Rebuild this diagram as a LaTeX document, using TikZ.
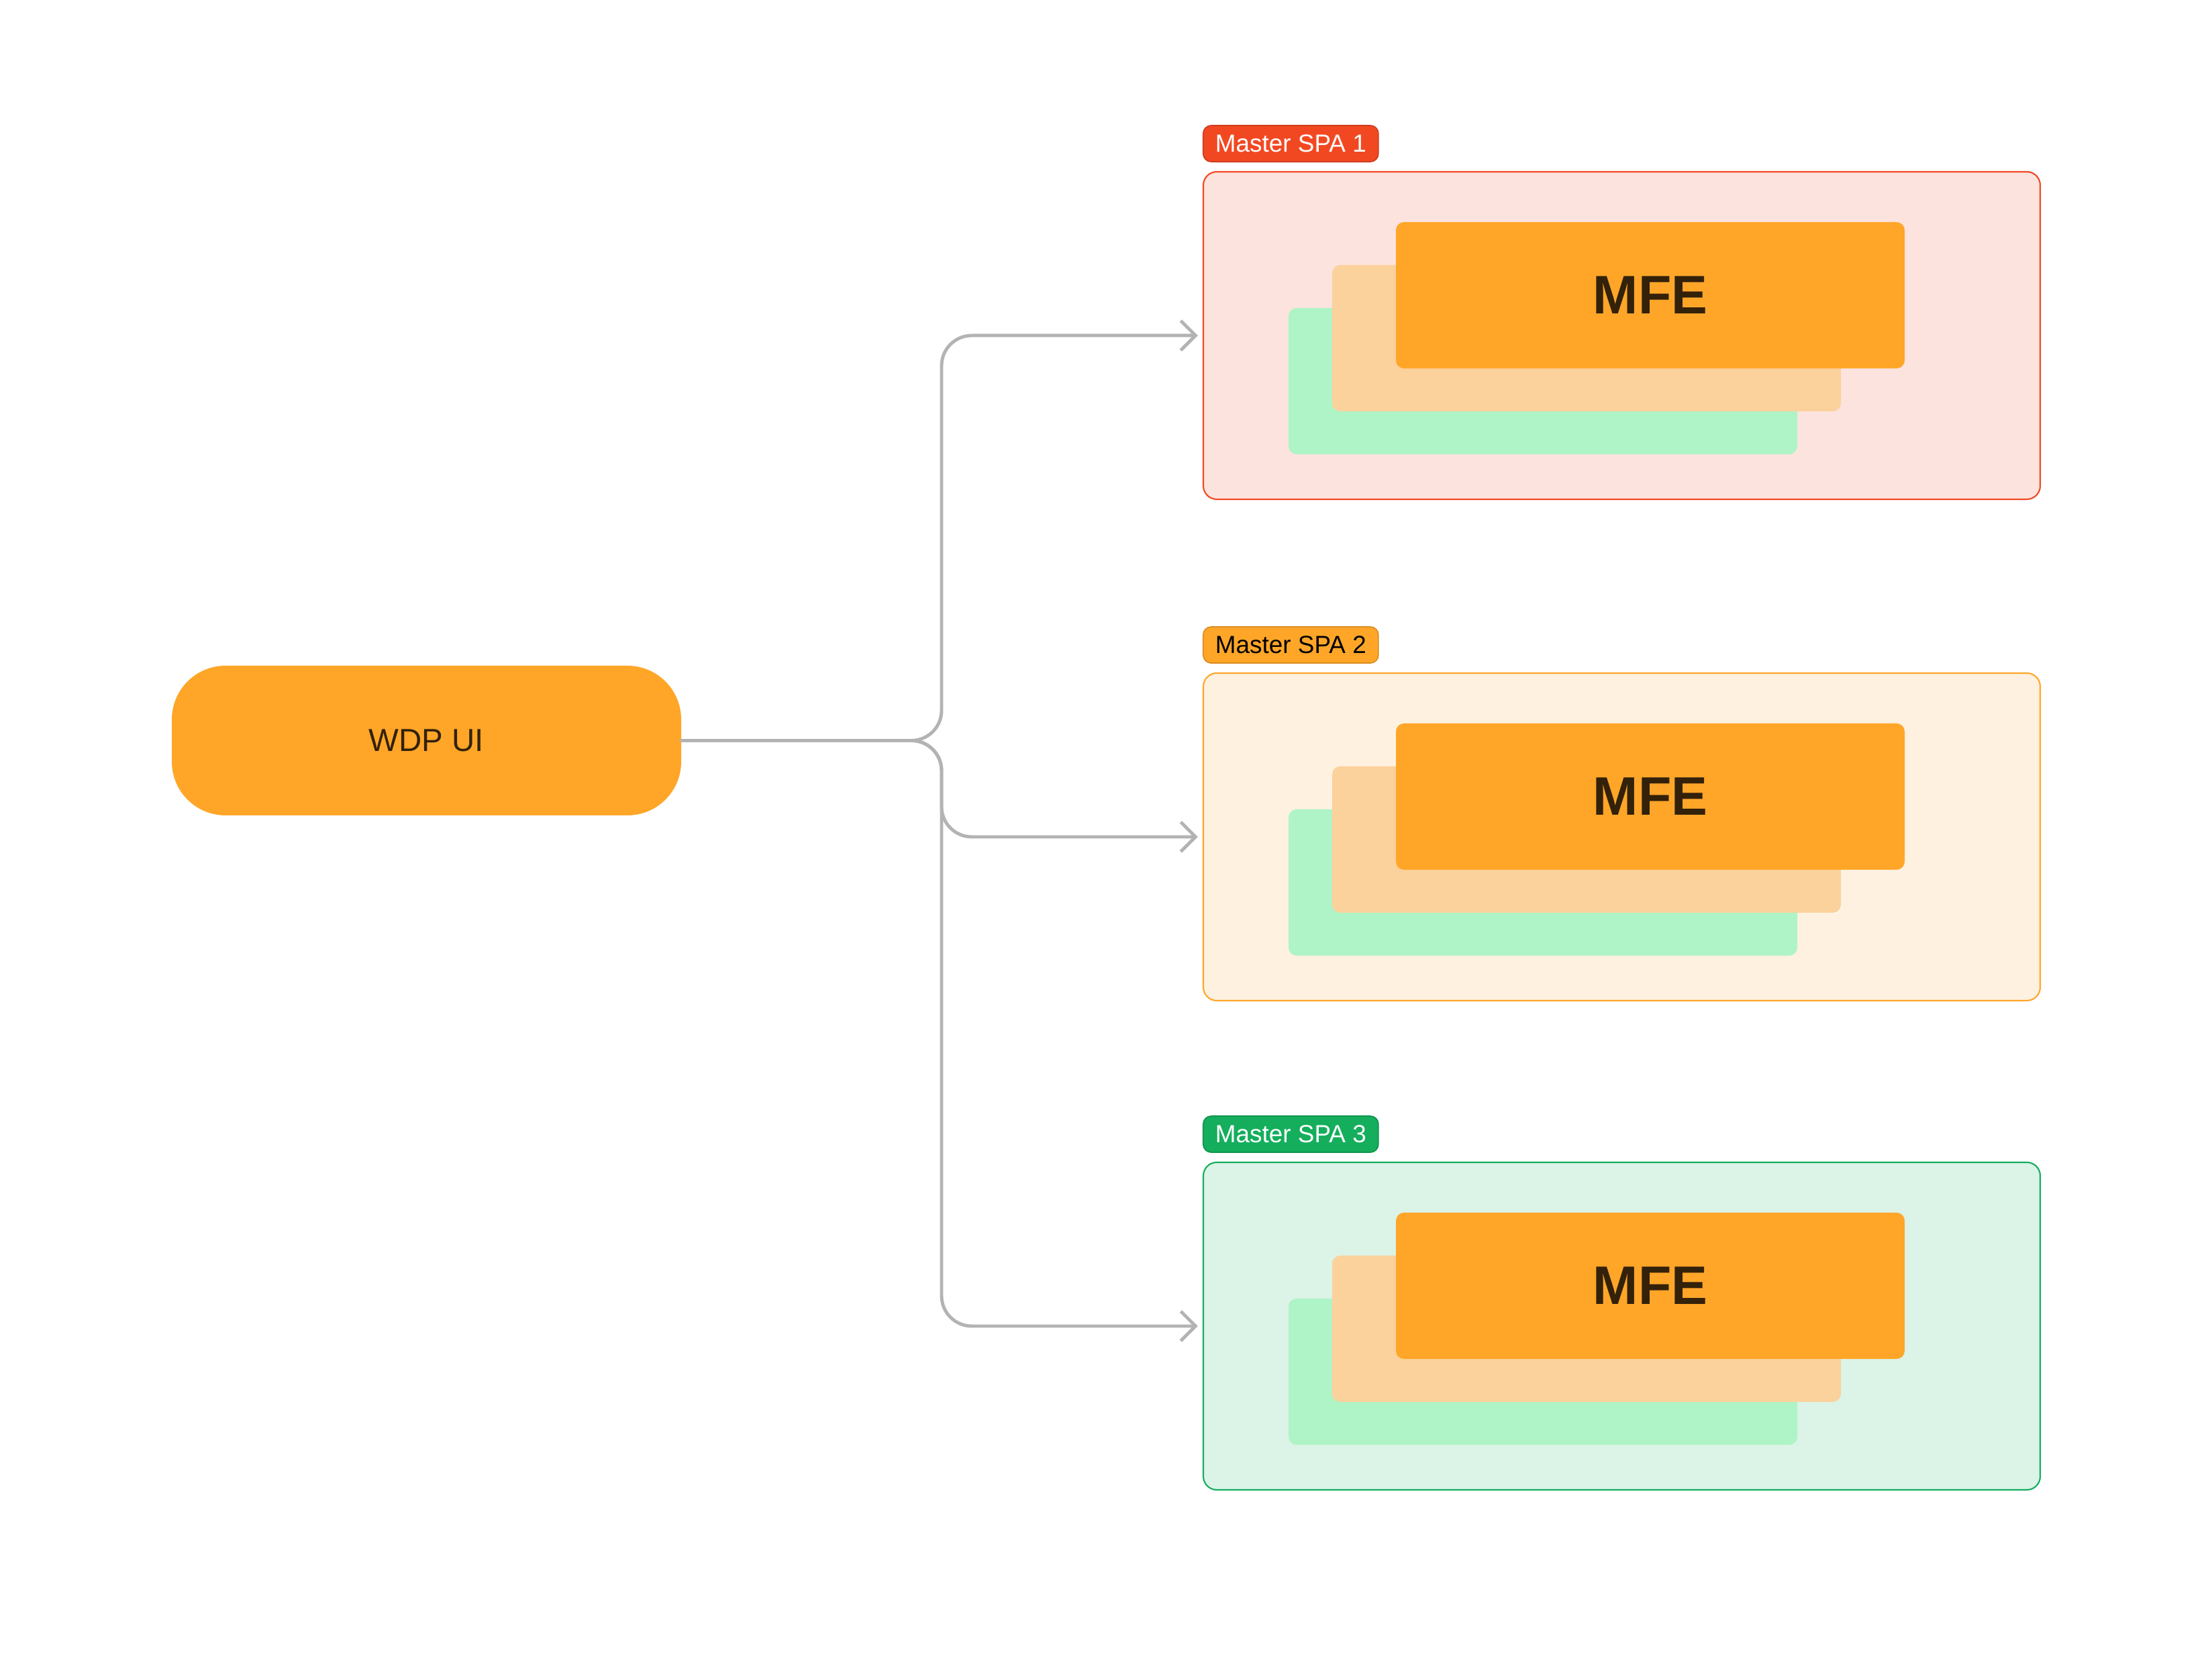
\documentclass[tikz,border=0pt]{standalone}
\usepackage{fontspec}
\setmainfont{Liberation Sans}
\usetikzlibrary{arrows.meta,positioning,calc}
\definecolor{mfeorange}{HTML}{FFA629}
\definecolor{spared}{HTML}{F24822}
\definecolor{spagreen}{HTML}{14AE5C}
\definecolor{redbg}{HTML}{FDE3DE}
\definecolor{orangebg}{HTML}{FEF1DF}
\definecolor{greenbg}{HTML}{DCF3E7}
\definecolor{peach}{HTML}{FBD19C}
\definecolor{mint}{HTML}{AFF4C6}
\definecolor{textbrown}{HTML}{33210A}
\definecolor{linkgray}{HTML}{B3B3B3}
\begin{document}
\begin{tikzpicture}[
	box/.style={rectangle,rounded corners=0.12cm,minimum width=7.58cm,minimum height=2.18cm,inner sep=0pt},
	spabox/.style={rectangle,rounded corners=0.2cm,line width=0.6pt,minimum width=12.47cm,minimum height=4.88cm},
	spalabel/.style={rectangle,rounded corners=0.12cm,line width=0.5pt,minimum width=2.61cm,minimum height=0.54cm,inner sep=0pt,font=\fontsize{10.5}{12}\selectfont},
	link/.style={draw=linkgray,line width=1.4pt,rounded corners=0.45cm,line cap=round,-{Straight Barb[length=0.22cm,width=0.44cm]},shorten >=2pt}
	]
			\useasboundingbox (0,0) rectangle (32.96,24.78);
			\node[fill=mfeorange,rounded corners=0.8cm,minimum width=7.59cm,minimum height=2.23cm,text=textbrown,font=\fontsize{13.5}{16}\selectfont] (wdp) at (6.355,13.745) {WDP UI};
			\coordinate (fork) at (14.03,13.745);
			\foreach \i/\cy/\col/\bg/\fg in {1/19.78/spared/redbg/white,2/12.31/mfeorange/orangebg/black,3/5.02/spagreen/greenbg/white}
			{
			\node[spabox,draw=\col,fill=\bg] (spa\i) at (24.165,\cy) {};
			\node[spalabel,draw=\col!85!black,fill=\col,text=\fg,anchor=south west] (lbl\i) at ([yshift=0.13cm]spa\i.north west) {Master SPA \i};
			\node[box,fill=mint] (green\i) at ($(spa\i.center)+(-1.175,-0.68)$) {};
			\node[box,fill=peach] (peach\i) at ($(spa\i.center)+(-0.525,-0.04)$) {};
			\node[box,fill=mfeorange,text=textbrown,font=\fontsize{23}{27}\selectfont\bfseries] (mfe\i) at ($(spa\i.center)+(0.425,0.60)$) {MFE};
			\draw[link] (wdp.east) -- (fork) |- (spa\i.west);
			}
		\end{tikzpicture}
\end{document}
